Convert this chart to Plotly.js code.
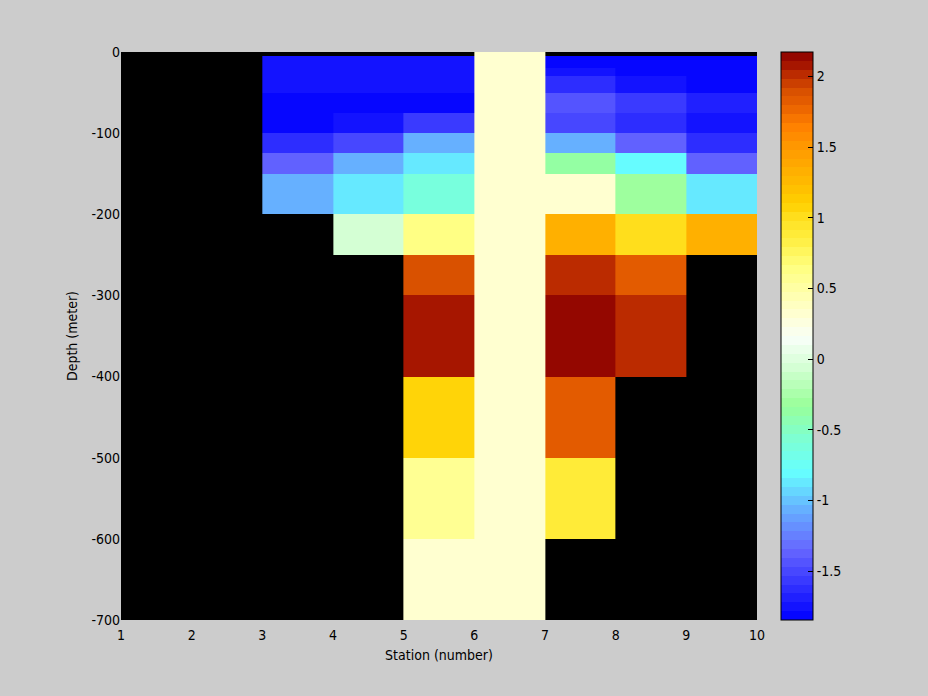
<!DOCTYPE html>
<html>
<head>
<meta charset="utf-8">
<script src="https://cdn.plot.ly/plotly-3.0.1.min.js"></script>
<style>
html,body{margin:0;padding:0;background:#cccccc;}
#chart{width:928px;height:696px;}
</style>
</head>
<body>
<div id="chart"></div>
<script>
// ---- data ----
// station cell edges (columns between stations)
const stationEdges = [3, 4, 5, 6, 7, 8, 9, 10];
// depth cell edges (metres, top to bottom)
const depthEdges = [0, -5, -20, -30, -50, -75, -100, -125, -150, -200, -250, -300, -400, -500, -600, -700];
// values per column (top row first), null = no data
const col3_4  = [null, -1.78, -1.78, -1.78, -1.84, -1.84, -1.65, -1.35, -1.05, null, null, null, null, null, null];
const col4_5  = [null, -1.78, -1.78, -1.78, -1.84, -1.78, -1.50, -1.05, -0.85, -0.06, null, null, null, null, null];
const col5_6  = [null, -1.78, -1.78, -1.78, -1.84, -1.54, -1.05, -0.85, -0.60, 0.62, 1.88, 2.10, 1.10, 0.55, 0.30];
const col6_7  = [0.30, 0.30, 0.30, 0.30, 0.30, 0.30, 0.30, 0.30, 0.30, 0.30, 0.30, 0.30, 0.30, 0.30, 0.30];
const col7_8  = [null, -1.84, -1.78, -1.65, -1.43, -1.50, -1.05, -0.35, 0.30, 1.30, 2.00, 2.17, 1.80, 0.88, null];
const col8_9  = [null, -1.84, -1.84, -1.78, -1.55, -1.62, -1.35, -0.80, -0.28, 1.00, 1.80, 2.04, null, null, null];
const col9_10 = [null, -1.84, -1.84, -1.84, -1.72, -1.78, -1.65, -1.35, -0.85, 1.32, null, null, null, null, null];
const columns = [col3_4, col4_5, col5_6, col6_7, col7_8, col8_9, col9_10];

const cMin = -1.846, cMax = 2.174;
const xTicks = [1, 2, 3, 4, 5, 6, 7, 8, 9, 10];
const yTicks = [0, -100, -200, -300, -400, -500, -600, -700];
const yTickText = ['0', '-100', '-200', '-300', '-400', '-500', '-600', '-700'];
const cTicks = [-1.5, -1, -0.5, 0, 0.5, 1, 1.5, 2];
const cTickText = ['-1.5', '-1', '-0.5', '0', '0.5', '1', '1.5', '2'];

// ---- colormap (style) ----
const anchors = [
  [-1.846, '#0000FF'], [-1.35, '#6666FF'], [-1.05, '#66B3FF'], [-0.80, '#66FFFF'],
  [-0.55, '#7FFFD0'], [-0.33, '#99FF99'], [-0.05, '#D5FFD5'], [0.15, '#F8FFF8'],
  [0.30, '#FFFFD5'], [0.55, '#FFFF99'], [0.65, '#FFFF80'], [0.85, '#FFEE40'],
  [1.00, '#FFE020'], [1.10, '#FFD000'], [1.30, '#FFB300'], [1.50, '#FF9900'],
  [1.65, '#FF8000'], [1.80, '#E86000'], [1.90, '#D85000'], [2.00, '#C03000'],
  [2.05, '#B02000'], [2.10, '#A01000'], [2.174, '#8B0000']
];
function hex2rgb(h){return [parseInt(h.substr(1,2),16),parseInt(h.substr(3,2),16),parseInt(h.substr(5,2),16)];}
function cmap(v){
  if (v <= anchors[0][0]) return anchors[0][1];
  for (let i = 1; i < anchors.length; i++) {
    if (v <= anchors[i][0]) {
      const a = anchors[i-1], b = anchors[i];
      const t = (v - a[0]) / (b[0] - a[0]);
      const ca = hex2rgb(a[1]), cb = hex2rgb(b[1]);
      const c = ca.map((x, k) => Math.round(x + (cb[k] - x) * t));
      return 'rgb(' + c.join(',') + ')';
    }
  }
  return anchors[anchors.length-1][1];
}
const nBands = 64;
const colorscale = [];
for (let i = 0; i < nBands; i++) {
  const v = cMin + (i + 0.5) * (cMax - cMin) / nBands;
  const c = cmap(v);
  colorscale.push([i / nBands, c]);
  colorscale.push([(i + 1) / nBands, c]);
}

// build z (rows = depth, cols = station)
const z = depthEdges.slice(0, -1).map((_, r) => columns.map(col => col[r]));

const font = {family: '"Liberation Sans Narrow", "DejaVu Sans Condensed", "Liberation Sans", Arial, sans-serif', size: 14, color: '#000'};

const cbCommon = {
  thicknessmode: 'pixels',
  len: 567.7 / 696, lenmode: 'fraction',
  y: 76 / 696, yanchor: 'bottom',
  xpad: 0, ypad: 0,
  tickvals: cTicks, ticktext: cTickText,
  tickcolor: '#000', tickwidth: 1, ticklen: 5
};

const trace = {
  type: 'heatmap',
  x: stationEdges,
  y: depthEdges,
  z: z,
  zmin: cMin,
  zmax: cMax,
  colorscale: colorscale,
  zsmooth: false,
  hoverongaps: false,
  colorbar: Object.assign({}, cbCommon, {
    thickness: 32,
    x: 781 / 928, xanchor: 'left',
    outlinewidth: 1, outlinecolor: '#000',
    ticks: 'inside',
    tickfont: font
  })
};

// invisible helper scale that only draws the tick marks on the bar's left edge
const leftTicks = {
  type: 'heatmap',
  x: [3, 4], y: [0, -5],
  z: [[null]],
  zmin: cMin, zmax: cMax,
  colorscale: [[0, 'rgba(0,0,0,0)'], [1, 'rgba(0,0,0,0)']],
  hoverinfo: 'skip',
  colorbar: Object.assign({}, cbCommon, {
    thickness: 0,
    x: 781.5 / 928, xanchor: 'right',
    outlinewidth: 0,
    ticks: 'outside',
    showticklabels: false
  })
};

const layout = {
  width: 928, height: 696,
  paper_bgcolor: '#cccccc',
  plot_bgcolor: '#000000',
  margin: {l: 0, r: 0, t: 0, b: 0},
  font: font,
  showlegend: false,
  xaxis: {
    domain: [121 / 928, 757 / 928],
    range: [1, 10],
    tickvals: xTicks,
    ticks: 'outside', ticklen: 2, tickcolor: 'rgba(0,0,0,0)',
    showgrid: false, zeroline: false,
    showline: false,
    tickfont: font,
    title: {text: 'Station (number)', font: font, standoff: 8}
  },
  yaxis: {
    domain: [76 / 696, 644 / 696],
    range: [-700, 0],
    tickvals: yTicks, ticktext: yTickText,
    ticks: '', showgrid: false, zeroline: false,
    showline: false,
    tickfont: font,
    title: {text: 'Depth (meter)', font: font, standoff: 10}
  }
};

Plotly.newPlot('chart', [trace, leftTicks], layout, {displayModeBar: false, staticPlot: true});
</script>
</body>
</html>
